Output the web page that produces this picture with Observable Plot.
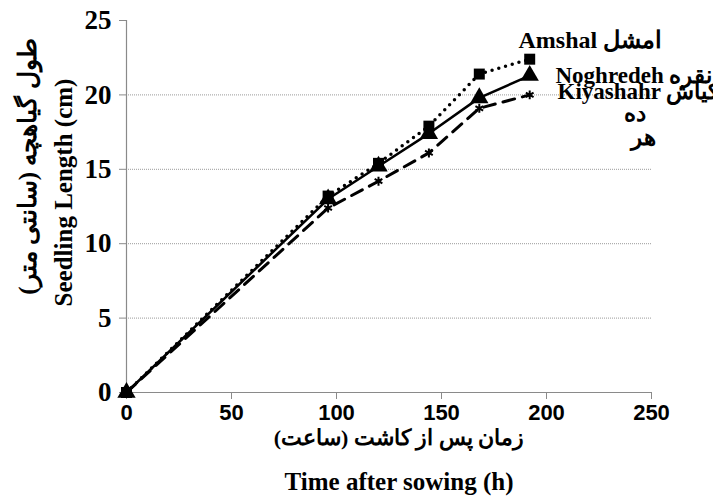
<!DOCTYPE html>
<html>
<head>
<meta charset="utf-8">
<script src="https://cdn.jsdelivr.net/npm/d3@7"></script>
<script src="https://cdn.jsdelivr.net/npm/@observablehq/plot@0.6"></script>
<style>
  html, body { margin: 0; padding: 0; background: white; }
</style>
</head>
<body>
<div id="chart"></div>
<script>
// ---- data ----
const hours = [0, 96, 120, 144, 168, 192];
const amshal = [0, 13.2, 15.4, 17.9, 21.4, 22.4];
const noghredeh = [0, 13.0, 15.2, 17.4, 19.8, 21.3];
const kiyashahr = [0, 12.4, 14.2, 16.1, 19.1, 20.0];
const xTicks = [0, 50, 100, 150, 200, 250];
const yTicks = [0, 5, 10, 15, 20, 25];
const gridTicks = [5, 10, 15, 20];

const yTitleFa = "طول گیاهچه (سانتی متر)";
const yTitleEn = "Seedling Length (cm)";
const xTitleFa = "زمان پس از کاشت (ساعت)";
const xTitleEn = "Time after sowing (h)";
const labelAmshal = "Amshal امشل";
const labelNoghredeh = "Noghredeh نقره";
const labelKiyashahr = "Kiyashahr کیاش";
const labelPart2 = "ده";
const labelPart3 = "هر";

const toRows = (vals) => hours.map((h, i) => ({h, v: vals[i]}));
const rA = toRows(amshal), rN = toRows(noghredeh), rK = toRows(kiyashahr);

const serif = "'Liberation Serif', 'Times New Roman', serif";
const sans = "'Liberation Sans', Arial, sans-serif";
const axisGray = "#8a8a8a";

const title = (txt, o) => Plot.text([txt], {
  fontFamily: serif, fontWeight: "bold", fill: "black", ...o
});

const chart = Plot.plot({
  width: 713,
  height: 497,
  marginLeft: 126,
  marginRight: 62,
  marginTop: 20,
  marginBottom: 105,
  style: {fontFamily: serif, background: "white", overflow: "visible"},
  x: {domain: [0, 250]},
  y: {domain: [0, 25]},
  marks: [
    Plot.gridY(gridTicks, {stroke: "#9a9a9a", strokeOpacity: 1, strokeDasharray: "1,1"}),
    Plot.axisY(yTicks, {
      tickSize: 7, tickPadding: 8, stroke: axisGray, fill: "black",
      fontSize: 27, fontWeight: "bold", fontFamily: serif, label: null
    }),
    Plot.axisX(xTicks, {
      tickSize: 7, tickPadding: 5, stroke: axisGray, fill: "black",
      fontSize: 22, fontWeight: "bold", fontFamily: sans, label: null
    }),
    Plot.ruleX([0], {stroke: axisGray, strokeWidth: 1.2}),
    Plot.ruleY([0], {stroke: axisGray, strokeWidth: 1.2}),
    // lines
    Plot.line(rK, {x: "h", y: "v", stroke: "black", strokeWidth: 3, strokeDasharray: "12,8"}),
    Plot.line(rN, {x: "h", y: "v", stroke: "black", strokeWidth: 2.5}),
    Plot.line(rA, {x: "h", y: "v", stroke: "black", strokeWidth: 3.5, strokeDasharray: "0,7", strokeLinecap: "round"}),
    // markers
    Plot.dot(rA, {x: "h", y: "v", symbol: "square", fill: "black", r: 6.2}),
    Plot.dot(rN, {x: "h", y: "v", symbol: "triangle", fill: "black", r: 6.8}),
    Plot.dot(rK, {x: "h", y: "v", symbol: "asterisk", stroke: "black", strokeWidth: 2, r: 4.2}),
    // axis titles
    title(yTitleFa, {frameAnchor: "left", rotate: -90, dx: -99, dy: -40, fontSize: 25, textAnchor: "middle", lineAnchor: "middle"}),
    title(yTitleEn, {frameAnchor: "left", rotate: -90, dx: -63, dy: -14, fontSize: 25, textAnchor: "middle", lineAnchor: "middle"}),
    title(xTitleFa, {frameAnchor: "bottom", dx: 10, dy: 45, fontSize: 22, textAnchor: "middle", lineAnchor: "middle"}),
    title(xTitleEn, {frameAnchor: "bottom", dx: 10, dy: 89, fontSize: 25, textAnchor: "middle", lineAnchor: "middle"}),
    // series labels
    title(labelAmshal, {frameAnchor: "top-left", dx: 392, dy: 27, fontSize: 24, textAnchor: "start", lineAnchor: "bottom"}),
    title(labelNoghredeh, {frameAnchor: "top-left", dx: 429, dy: 62, fontSize: 23, textAnchor: "start", lineAnchor: "bottom"}),
    title(labelKiyashahr, {frameAnchor: "top-left", dx: 431, dy: 78, fontSize: 23, textAnchor: "start", lineAnchor: "bottom"}),
    title(labelPart2, {frameAnchor: "top-left", dx: 508, dy: 100, fontSize: 23, textAnchor: "middle", lineAnchor: "bottom"}),
    title(labelPart3, {frameAnchor: "top-left", dx: 517, dy: 124, fontSize: 23, textAnchor: "middle", lineAnchor: "bottom"})
  ]
});
document.getElementById("chart").append(chart);
</script>
</body>
</html>
